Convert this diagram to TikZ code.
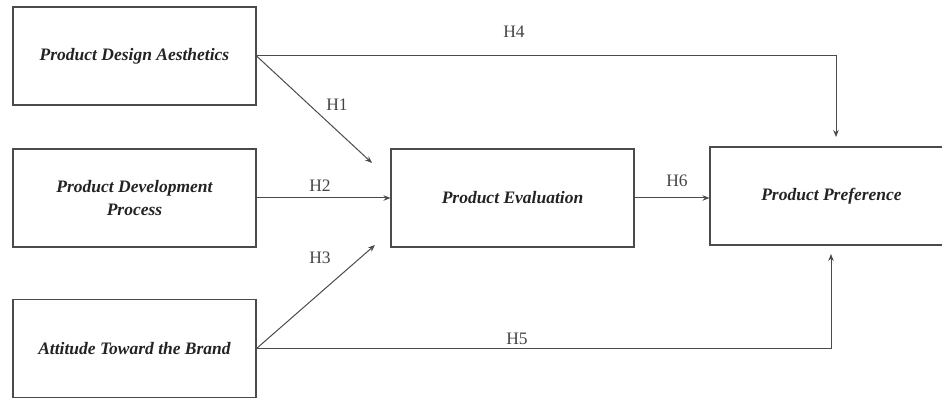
\documentclass[tikz,border=0pt]{standalone}
\usepackage{fontspec}
\setmainfont{Liberation Serif}
\usetikzlibrary{arrows.meta}
\definecolor{linegray}{RGB}{75,75,75}
\definecolor{textgray}{RGB}{35,35,35}
\tikzset{
  construct/.style = {draw = linegray, line width = 1.1pt, minimum width = 243pt,
    minimum height = 98pt, align = center, text = textgray,
    font = \fontsize{17.5}{23}\selectfont\bfseries\itshape},
  path/.style = {draw = linegray, line width = 1pt, -{Stealth[length = 7pt, width = 5.5pt]}},
  hyp/.style = {text = textgray!85, font = \fontsize{17.5}{19}\selectfont}
}
\begin{document}
\begin{tikzpicture}[x = 1pt, y = -1pt]
        \useasboundingbox (0, 0) rectangle (942, 398);
        \node[construct] (design) at (134.5, 56) {Product Design Aesthetics};
        \node[construct] (develop) at (134.5, 198) {Product Development\\Process};
        \node[construct] (brand) at (134.5, 348.5) {Attitude Toward the Brand};
        \node[construct] (eval) at (512.5, 198) {Product Evaluation};
        \node[construct] (pref) at (831.5, 196) {Product Preference};
        \coordinate (h1end) at (372, 163);
        \coordinate (h3end) at (375, 245);
        \coordinate (h4end) at (836, 137);
        \coordinate (h5end) at (831, 254);
        \draw[path] (design.east) -- (h1end);
        \draw[path] (develop.east) -- (eval.west);
        \draw[path] (brand.east) -- (h3end);
        \draw[path] (design.east) -| (h4end);
        \draw[path] (brand.east) -| (h5end);
        \draw[path] (eval.east) -- (pref.west |- eval.east);
        \node[hyp] (h1) at (337, 105) {H1};
        \node[hyp] (h2) at (320, 186) {H2};
        \node[hyp] (h3) at (320, 258) {H3};
        \node[hyp] (h4) at (514, 32) {H4};
        \node[hyp] (h5) at (517, 339) {H5};
        \node[hyp] (h6) at (677, 181) {H6};
\end{tikzpicture}
\end{document}
